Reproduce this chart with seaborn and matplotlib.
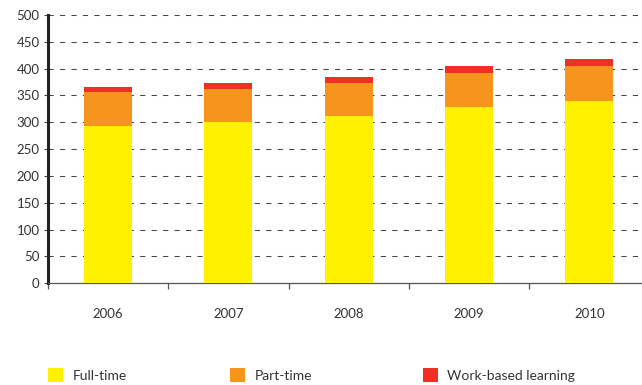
import matplotlib
matplotlib.use("Agg")
import matplotlib.pyplot as plt
from matplotlib.patches import Patch
from matplotlib.ticker import FixedLocator, NullFormatter
import numpy as np
import pandas as pd
import seaborn as sns

years = ["2006", "2007", "2008", "2009", "2010"]
full_time = [294, 300, 311, 328, 339]
part_time = [62, 63, 62, 63, 66]
work_based = [10, 10, 11, 14, 13]

labels = ["Full-time", "Part-time", "Work-based learning"]
colors = ["#FFF100", "#F7941D", "#EE3124"]

sns.set_style("white")
plt.rcParams["font.family"] = ["Lato", "DejaVu Sans"]
text_color = "#333333"

df = pd.DataFrame({"year": years, "full": full_time, "part": part_time, "wbl": work_based})
df["full_part"] = df["full"] + df["part"]
df["total"] = df["full_part"] + df["wbl"]

fig = plt.figure(figsize=(6.42, 3.85), dpi=100)
ax = fig.add_axes([48 / 642, 1 - 283.3 / 385, (641 - 48) / 642, (283.3 - 15) / 385])

# Stacked columns: draw cumulative heights from the top segment down
for col, color in zip(["total", "full_part", "full"], [colors[2], colors[1], colors[0]]):
    sns.barplot(data=df, x="year", y=col, color=color, width=0.4,
                saturation=1, ax=ax, zorder=3, linewidth=0)

ax.set_xlim(-0.5, 4.43)
ax.set_ylim(0, 500)
ax.set_xlabel("")
ax.set_ylabel("")

# Dashed horizontal grid
ax.set_yticks(np.arange(0, 501, 50))
ax.yaxis.grid(True, color="#444444", linewidth=0.75, linestyle=(0, (5, 6)), zorder=0)
ax.xaxis.grid(False)
ax.set_axisbelow(True)

for side in ["top", "right"]:
    ax.spines[side].set_visible(False)
ax.spines["left"].set_color("#222222")
ax.spines["left"].set_linewidth(2.2)
ax.spines["bottom"].set_color("#555555")
ax.spines["bottom"].set_linewidth(0.9)

ax.tick_params(axis="y", which="major", length=3, width=0.8, color="#444444",
               direction="out", labelsize=9.5, labelcolor=text_color, pad=3, left=True)
ax.tick_params(axis="x", which="major", length=0, labelsize=9.5, labelcolor=text_color, pad=18)
ax.xaxis.set_minor_locator(FixedLocator([-0.5, 0.5, 1.5, 2.5, 3.5]))
ax.xaxis.set_minor_formatter(NullFormatter())
ax.tick_params(axis="x", which="minor", length=4.5, width=0.9, color="#555555",
               direction="out", bottom=True)

# Legend entries spread along the bottom
x_pos = [48 / 642, 230 / 642, 423 / 642]
for lab, color, xp in zip(labels, colors, x_pos):
    fig.legend(handles=[Patch(facecolor=color, edgecolor="none")], labels=[lab],
               loc="center left", bbox_to_anchor=(xp, 1 - 375 / 385),
               frameon=False, fontsize=10, labelcolor=text_color,
               handlelength=1.1, handleheight=1.1, handletextpad=0.65,
               borderpad=0, borderaxespad=0)

fig.savefig("out.png", dpi=100)
